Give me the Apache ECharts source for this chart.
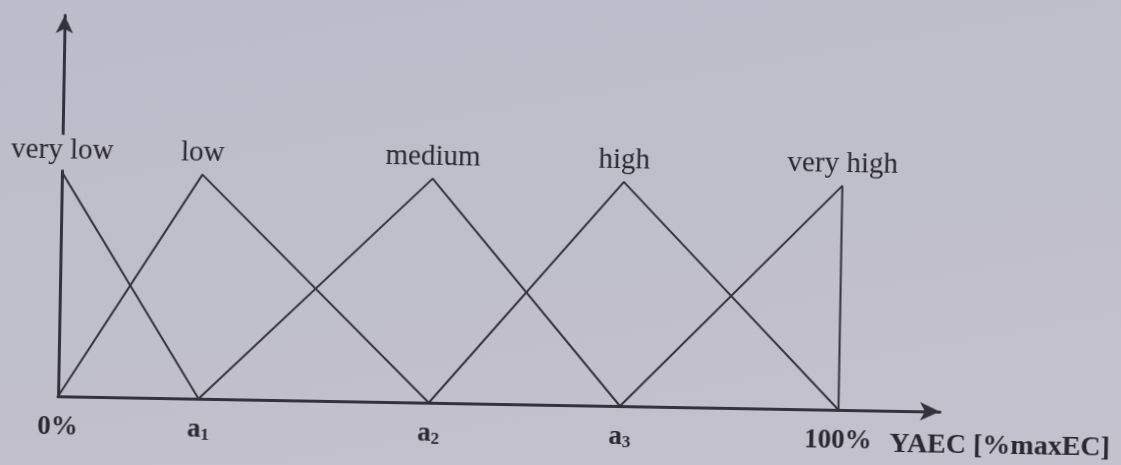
<!DOCTYPE html>
<html>
<head>
<meta charset="utf-8">
<script src="https://cdn.jsdelivr.net/npm/echarts@6/dist/echarts.min.js"></script>
<style>
  html, body { margin: 0; padding: 0; width: 1121px; height: 465px; overflow: hidden; }
  body { background: linear-gradient(170deg, #bdbcca 0%, #bfbecb 45%, #c4c2ce 100%); }
  #chart { width: 1121px; height: 465px; transform: rotate(1deg); transform-origin: 50% 50%; }
</style>
</head>
<body>
<div id="chart"></div>
<script>
// Fuzzy sets for YAEC, expressed in percent of maxEC
const categories = ['very low', 'low', 'medium', 'high', 'very high'];

// Breakpoints on the horizontal axis (0%, a1, a2, a3, 100%)
const tickValues = [0, 18, 47.5, 72, 100];
const tickLabels = ['0%', 'a{s|1}', 'a{s|2}', 'a{s|3}', '100%'];

// Membership function vertices: x in %maxEC, y = membership degree
const veryLowX  = [0, 18];
const veryLowY  = [1, 0];
const lowX      = [0, 18, 47.5];
const lowY      = [0, 1, 0];
const mediumX   = [18, 47.5, 72];
const mediumY   = [0, 1, 0];
const highX     = [47.5, 72, 100];
const highY     = [0, 1, 0];
const veryHighX = [72, 100, 100];
const veryHighY = [0, 1, 0];

const shapes = [
  [veryLowX, veryLowY],
  [lowX, lowY],
  [mediumX, mediumY],
  [highX, highY],
  [veryHighX, veryHighY]
];

const ink = '#34323c';
const textInk = '#2a2831';
const paper = '#bebdca';
const serif = 'Liberation Serif';

const series = shapes.map(function (s, i) {
  const xs = s[0], ys = s[1];
  const peak = ys.indexOf(Math.max.apply(null, ys));
  const data = xs.map(function (x, j) {
    const item = { value: [x, ys[j]] };
    if (j === peak) {
      item.label = { show: true };
    }
    return item;
  });
  return {
    name: categories[i],
    type: 'line',
    data: data,
    showSymbol: true,
    symbol: 'circle',
    symbolSize: 1,
    itemStyle: { color: ink },
    animation: false,
    lineStyle: { color: ink, width: 2 },
    label: {
      show: false,
      position: 'top',
      distance: 2,
      formatter: categories[i],
      color: textInk,
      fontFamily: serif,
      fontWeight: 'normal',
      fontSize: 29,
      backgroundColor: i === 0 ? paper : 'transparent',
      padding: [2, 2, 4, 2]
    },
    z: 3
  };
});

const chart = echarts.init(document.getElementById('chart'), null, { renderer: 'canvas' });
chart.setOption({
  backgroundColor: 'transparent',
  animation: false,
  textStyle: { fontFamily: serif },
  grid: { left: 61, right: 178, top: 24, bottom: 60, containLabel: false },
  xAxis: {
    type: 'value',
    min: 0,
    max: 113,
    name: 'YAEC [%maxEC]',
    nameLocation: 'end',
    nameGap: -50,
    nameTextStyle: {
      fontFamily: serif,
      fontWeight: 'bold',
      fontSize: 28,
      color: textInk,
      align: 'left',
      verticalAlign: 'top',
      padding: [20, 0, 0, 0]
    },
    axisLine: {
      show: true,
      symbol: ['none', 'arrow'],
      symbolSize: [14, 20],
      lineStyle: { color: ink, width: 3 }
    },
    axisTick: { show: false },
    splitLine: { show: false },
    axisLabel: {
      customValues: tickValues,
      margin: 18,
      fontFamily: serif,
      fontWeight: 'bold',
      fontSize: 27,
      color: textInk,
      formatter: function (v) {
        const k = tickValues.indexOf(v);
        return k >= 0 ? tickLabels[k] : '';
      },
      rich: {
        s: { fontFamily: serif, fontWeight: 'bold', fontSize: 17, color: textInk, verticalAlign: 'bottom', padding: [10, 0, 0, 0] }
      }
    }
  },
  yAxis: {
    type: 'value',
    min: 0,
    max: 1.7,
    axisLine: {
      show: true,
      symbol: ['none', 'arrow'],
      symbolSize: [13, 18],
      lineStyle: { color: ink, width: 3 }
    },
    axisTick: { show: false },
    axisLabel: { show: false },
    splitLine: { show: false }
  },
  series: series
});
</script>
</body>
</html>
